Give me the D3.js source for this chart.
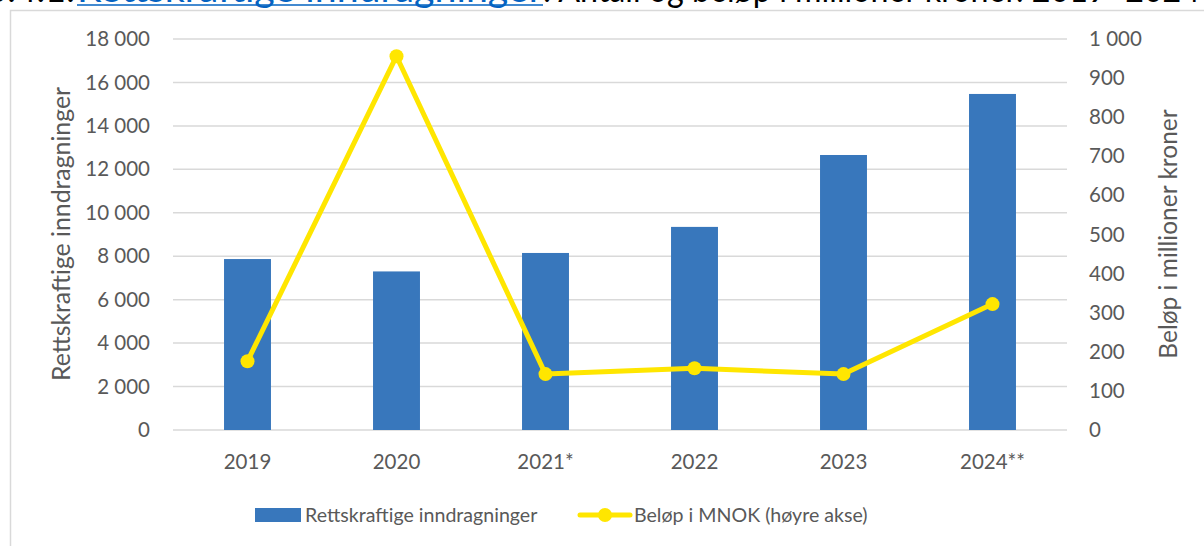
<!DOCTYPE html>
<html>
<head>
<meta charset="utf-8">
<script src="https://cdn.jsdelivr.net/npm/d3@7"></script>
<style>
  html, body { margin: 0; padding: 0; background: #fff; overflow: hidden; }
  svg { display: block; }
  text { font-family: Lato, "Open Sans", sans-serif; }
</style>
</head>
<body>
<svg id="chart" width="1204" height="546"></svg>
<script>
// Rettskraftige inndragninger per år (venstre akse) og beløp i MNOK (høyre akse)
const categories = ["2019", "2020", "2021*", "2022", "2023", "2024**"];
const antall = [7870, 7300, 8150, 9350, 12660, 15470];
const belopMNOK = [176, 956, 143, 158, 143, 322];
const leftTicks = [0, 2000, 4000, 6000, 8000, 10000, 12000, 14000, 16000, 18000];
const rightTicks = [0, 100, 200, 300, 400, 500, 600, 700, 800, 900, 1000];

const titleParts = ["Figur 3.4.1: ", "Rettskraftige inndragninger", ": Antall og beløp i millioner kroner. 2019–2024"];
const seriesNames = ["Rettskraftige inndragninger", "Beløp i MNOK (høyre akse)"];
const axisTitles = ["Rettskraftige inndragninger", "Beløp i millioner kroner"];

const BLUE = "#3877bc";
const YELLOW = "#ffe600";
const GRID = "#d9d9d9";
const TEXT = "#595959";

const nb = d3.formatLocale({ decimal: ",", thousands: "\u00a0", grouping: [3], currency: ["", " kr"] });
const fmt = nb.format(",d");

const svg = d3.select("#chart");

// Overskrift (ligger delvis over toppkanten)
const title = svg.append("g")
  .style("font-family", "'Liberation Sans', Arial, sans-serif")
  .style("font-size", "36px");
const linkX0 = 77, linkX1 = 543, titleEnd = 1200, titleY = 2;
title.append("text")
  .attr("x", linkX0 - 2).attr("y", titleY)
  .attr("text-anchor", "end")
  .attr("fill", "#000")
  .text(titleParts[0]);
title.append("text")
  .attr("x", linkX0).attr("y", titleY)
  .attr("textLength", linkX1 - linkX0)
  .attr("lengthAdjust", "spacingAndGlyphs")
  .attr("fill", "#0563c1")
  .text(titleParts[1]);
title.append("text")
  .attr("x", linkX1).attr("y", titleY)
  .attr("textLength", titleEnd - linkX1)
  .attr("lengthAdjust", "spacingAndGlyphs")
  .attr("fill", "#000")
  .text(titleParts[2]);
title.append("line")
  .attr("x1", linkX0).attr("x2", linkX1).attr("y1", 5).attr("y2", 5)
  .attr("stroke", "#0563c1").attr("stroke-width", 1.5);

// Ramme rundt diagrammet
svg.append("rect")
  .attr("x", 10.5).attr("y", 10.5).attr("width", 1300).attr("height", 600)
  .attr("fill", "none").attr("stroke", GRID).attr("stroke-width", 1.5);

const plot = { left: 173, right: 1067, top: 39, bottom: 430 };

const x = d3.scaleBand()
  .domain(categories)
  .range([plot.left, plot.right])
  .paddingInner(0.685)
  .paddingOuter(0.3425);

const yL = d3.scaleLinear().domain([0, 18000]).range([plot.bottom, plot.top]);
const yR = d3.scaleLinear().domain([0, 1000]).range([plot.bottom, plot.top]);

// Rutenett
svg.append("g")
  .selectAll("line")
  .data(leftTicks)
  .join("line")
  .attr("x1", plot.left).attr("x2", plot.right)
  .attr("y1", d => yL(d)).attr("y2", d => yL(d))
  .attr("stroke", GRID).attr("stroke-width", 1.5);

// Venstre akse
const axL = svg.append("g")
  .attr("transform", `translate(${plot.left - 23},0)`)
  .call(d3.axisLeft(yL).tickValues(leftTicks).tickFormat(fmt).tickSize(0).tickPadding(0));
axL.select(".domain").remove();
axL.selectAll("text")
  .attr("fill", TEXT)
  .style("font-family", "Lato, sans-serif")
  .style("font-size", "20.5px");

// Høyre akse
const axR = svg.append("g")
  .attr("transform", `translate(${plot.right + 22},0)`)
  .call(d3.axisRight(yR).tickValues(rightTicks).tickFormat(fmt).tickSize(0).tickPadding(0));
axR.select(".domain").remove();
axR.selectAll("text")
  .attr("fill", TEXT)
  .style("font-family", "Lato, sans-serif")
  .style("font-size", "20.5px");

// Kategoriakse
const axX = svg.append("g")
  .attr("transform", `translate(0,${plot.bottom + 32})`)
  .call(d3.axisBottom(x).tickSize(0).tickPadding(0));
axX.select(".domain").remove();
axX.selectAll("text")
  .attr("fill", TEXT)
  .attr("dy", "0.35em")
  .style("font-family", "Lato, sans-serif")
  .style("font-size", "20.5px");

// Søyler
svg.append("g")
  .selectAll("rect")
  .data(categories.map((c, i) => ({ c, v: antall[i] })))
  .join("rect")
  .attr("x", d => x(d.c))
  .attr("width", x.bandwidth())
  .attr("y", d => yL(d.v))
  .attr("height", d => yL(0) - yL(d.v))
  .attr("fill", BLUE);

// Linje for beløp
const pts = categories.map((c, i) => ({ c, v: belopMNOK[i] }));
const cx = d => x(d.c) + x.bandwidth() / 2;
svg.append("path")
  .datum(pts)
  .attr("fill", "none")
  .attr("stroke", YELLOW)
  .attr("stroke-width", 5)
  .attr("stroke-linejoin", "round")
  .attr("d", d3.line().x(cx).y(d => yR(d.v)));
svg.append("g")
  .selectAll("circle")
  .data(pts)
  .join("circle")
  .attr("cx", cx)
  .attr("cy", d => yR(d.v))
  .attr("r", 7)
  .attr("fill", YELLOW);

// Aksetitler
svg.append("text")
  .attr("transform", "translate(70,234) rotate(-90)")
  .attr("text-anchor", "middle")
  .attr("fill", TEXT)
  .style("font-size", "24.8px")
  .text(axisTitles[0]);
svg.append("text")
  .attr("transform", "translate(1177,234) rotate(-90)")
  .attr("text-anchor", "middle")
  .attr("fill", TEXT)
  .style("font-size", "24.5px")
  .text(axisTitles[1]);

// Tegnforklaring
const leg = svg.append("g").attr("transform", "translate(0,515)");
leg.append("rect")
  .attr("x", 255).attr("y", -7).attr("width", 46).attr("height", 14)
  .attr("fill", BLUE);
leg.append("text")
  .attr("x", 305).attr("y", 0).attr("dy", "0.35em")
  .attr("fill", TEXT)
  .style("font-size", "19.6px")
  .text(seriesNames[0]);
leg.append("line")
  .attr("x1", 580).attr("x2", 630).attr("y1", 0).attr("y2", 0)
  .attr("stroke", YELLOW).attr("stroke-width", 5).attr("stroke-linecap", "round");
leg.append("circle")
  .attr("cx", 605).attr("cy", 0).attr("r", 7).attr("fill", YELLOW);
leg.append("text")
  .attr("x", 634).attr("y", 0).attr("dy", "0.35em")
  .attr("fill", TEXT)
  .style("font-size", "19.6px")
  .text(seriesNames[1]);
</script>
</body>
</html>
